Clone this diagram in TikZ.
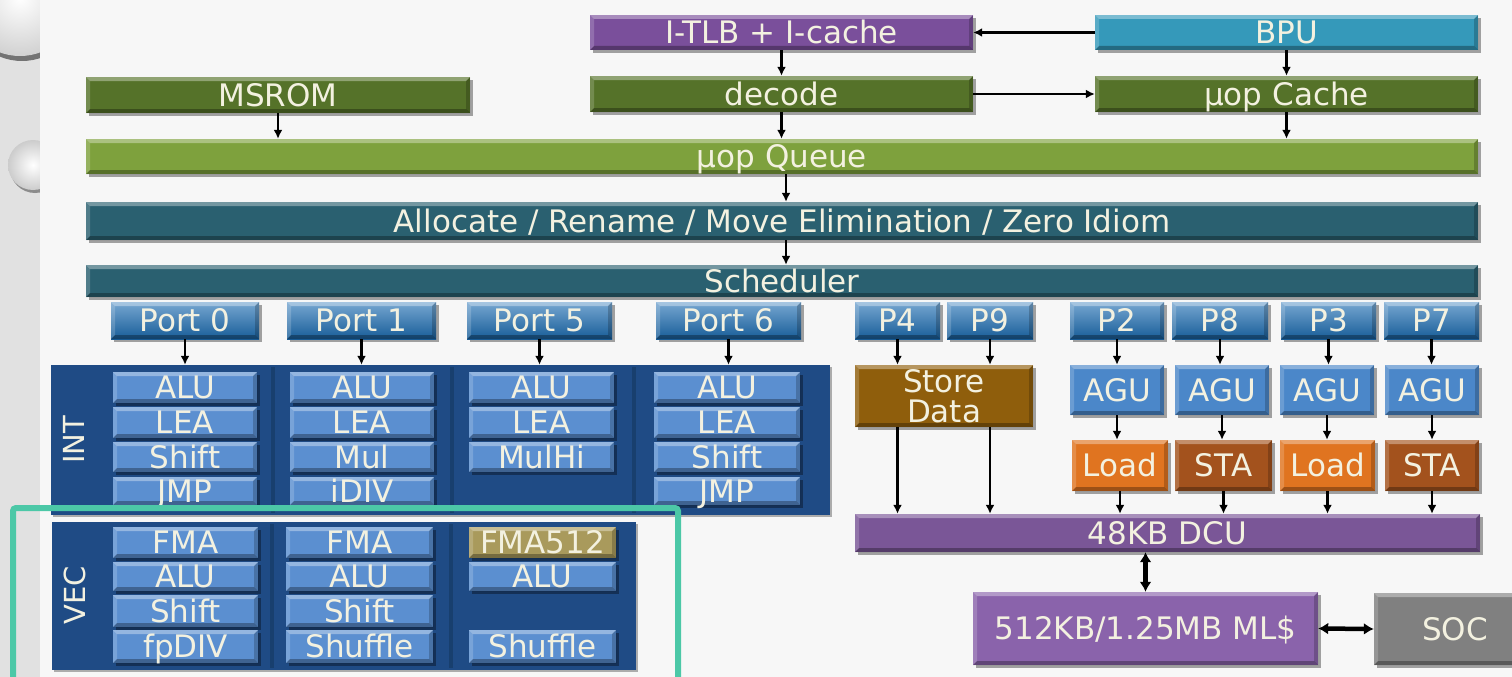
\documentclass[tikz,border=0pt]{standalone}
\usepackage{fontspec}
\setmainfont{DejaVu Sans}
\usetikzlibrary{arrows.meta,shadows,calc}

\definecolor{bgL}{HTML}{E1E1E1}
\definecolor{bgM}{HTML}{F7F7F7}
\definecolor{txtC}{HTML}{F3F1E0}
\definecolor{itlbC}{HTML}{7A4F9B}
\definecolor{bpuC}{HTML}{3599BA}
\definecolor{oliveC}{HTML}{557229}
\definecolor{queueC}{HTML}{7EA13D}
\definecolor{tealC}{HTML}{2A6070}
\definecolor{portC}{HTML}{1C6DB3}
\definecolor{navyC}{HTML}{1F4B85}
\definecolor{divC}{HTML}{183F6E}
\definecolor{unitC}{HTML}{5B8FD0}
\definecolor{fmaC}{HTML}{A99A5C}
\definecolor{storeC}{HTML}{8F5E0C}
\definecolor{aguC}{HTML}{4B87C9}
\definecolor{loadC}{HTML}{E07420}
\definecolor{staC}{HTML}{A3521D}
\definecolor{dcuC}{HTML}{7A5697}
\definecolor{mlC}{HTML}{8A63AB}
\definecolor{socC}{HTML}{808080}
\definecolor{hiC}{HTML}{4CC8A7}

\tikzset{
  % a box given by its corners: {x1}{y1}{x2}{y2}
  span/.style n args={4}{at={({(#1+#3)/2},{(#2+#4)/2})},
    minimum width={#3-#1}, minimum height={#4-#2}},
  lbl/.style={text=txtC, font=\fontsize{31}{30}\selectfont},
  bevel/.style={path picture={
    \coordinate (bvNW) at (path picture bounding box.north west);
    \coordinate (bvNE) at (path picture bounding box.north east);
    \coordinate (bvSW) at (path picture bounding box.south west);
    \coordinate (bvSE) at (path picture bounding box.south east);
    \fill[white,opacity=0.35] (bvNW) -- (bvNE) -- ($(bvNE)+(-4,4)$) -- ($(bvNW)+(4,4)$) -- cycle;
    \fill[white,opacity=0.18] (bvNW) -- ($(bvNW)+(4,4)$) -- ($(bvSW)+(4,-4)$) -- (bvSW) -- cycle;
    \fill[black,opacity=0.30] (bvSW) -- (bvSE) -- ($(bvSE)+(-4,-4)$) -- ($(bvSW)+(4,-4)$) -- cycle;
    \fill[black,opacity=0.20] (bvNE) -- (bvSE) -- ($(bvSE)+(-4,-4)$) -- ($(bvNE)+(-4,4)$) -- cycle;
  }},
  basebox/.style={fill=#1, lbl, inner sep=0pt, anchor=center, bevel,
    drop shadow={shadow xshift=2.5pt, shadow yshift=-3pt, opacity=0.35, fill=black}},
  box/.style={basebox=#1, text height=22pt, text depth=0pt},
  port/.style={box=portC, top color=portC!60!white, bottom color=portC!85!black},
  unit/.style={box=#1},
  unit/.default=unitC,
  blkbg/.style={fill=navyC, inner sep=0pt, anchor=center,
    drop shadow={shadow xshift=2pt, shadow yshift=-2pt, opacity=0.3, fill=black}},
  divider/.style={divC, line width=4pt},
  side/.style={text=txtC, font=\fontsize{29}{29}\selectfont, rotate=90},
  arr/.style={-{Latex[length=9pt,width=9pt]}, line width=2.7pt, black},
  darr/.style={{Latex[length=10pt,width=12pt]}-{Latex[length=10pt,width=12pt]}, line width=4.5pt, black},
  hl/.style={hiC, line width=6pt, rounded corners=3pt}
}

\begin{document}
\begin{tikzpicture}[x=1pt,y=-1pt]
\useasboundingbox (0,0) rectangle (1512,677);
\clip (0,0) rectangle (1512,677);

% slide background with the two round ornaments on the left band
\fill[bgL] (0,0) rectangle (40,677);
\fill[black!55] (22,3) circle[radius=58];
\shade[inner color=white, outer color=black!18] (20,-2) circle[radius=58];
\fill[black!45] (35,168) circle[radius=25];
\shade[inner color=white, outer color=black!20] (33,165) circle[radius=25];
\fill[bgM] (40,0) rectangle (1512,677);

% front end
\node[box=itlbC,  span={590}{15}{973}{50}]    (itlb)   {I-TLB + I-cache};
\node[box=bpuC,   span={1095}{15}{1478}{50}]  (bpu)    {BPU};
\node[box=oliveC, span={86}{77}{470}{113}]    (msrom)  {MSROM};
\node[box=oliveC, span={590}{76}{973}{112}]   (decode) {decode};
\node[box=oliveC, span={1095}{76}{1478}{112}] (ucache) {µop Cache};
\node[box=queueC, span={86}{139}{1478}{174}]  (queue)  {µop Queue};
\node[box=tealC,  span={86}{202}{1478}{240}]  (alloc)  {Allocate / Rename / Move Elimination / Zero Idiom};
\node[box=tealC,  span={86}{265}{1478}{297}]  (sched)  {Scheduler};

% ports
\node[port, span={111}{302}{259}{339}]   (p0) {Port 0};
\node[port, span={287}{302}{436}{339}]   (p1) {Port 1};
\node[port, span={467}{302}{612}{339}]   (p5) {Port 5};
\node[port, span={656}{302}{801}{339}]   (p6) {Port 6};
\node[port, span={855}{302}{940}{339}]   (p4) {P4};
\node[port, span={947}{302}{1033}{339}]  (p9) {P9};
\node[port, span={1070}{302}{1164}{339}] (p2) {P2};
\node[port, span={1172}{302}{1268}{339}] (p8) {P8};
\node[port, span={1281}{302}{1376}{339}] (p3) {P3};
\node[port, span={1384}{302}{1479}{339}] (p7) {P7};

% integer execution cluster
\node[blkbg, span={51}{365}{830}{515}] (intblk) {};
\draw[divider] (273,367) -- (273,513);
\draw[divider] (452,367) -- (452,513);
\draw[divider] (634,367) -- (634,513);
\node[side] (intlab) at (74,440) {INT};
\node[unit, span={113}{372}{257}{403}] (i11) {ALU};
\node[unit, span={113}{407}{257}{438}] (i12) {LEA};
\node[unit, span={113}{442}{257}{472}] (i13) {Shift};
\node[unit, span={113}{477}{257}{505}] (i14) {JMP};
\node[unit, span={290}{372}{434}{403}] (i21) {ALU};
\node[unit, span={290}{407}{434}{438}] (i22) {LEA};
\node[unit, span={290}{442}{434}{472}] (i23) {Mul};
\node[unit, span={290}{477}{434}{505}] (i24) {iDIV};
\node[unit, span={469}{372}{614}{403}] (i31) {ALU};
\node[unit, span={469}{407}{614}{438}] (i32) {LEA};
\node[unit, span={469}{442}{614}{472}] (i33) {MulHi};
\node[unit, span={654}{372}{800}{403}] (i41) {ALU};
\node[unit, span={654}{407}{800}{438}] (i42) {LEA};
\node[unit, span={654}{442}{800}{472}] (i43) {Shift};
\node[unit, span={654}{477}{800}{505}] (i44) {JMP};

% vector execution cluster
\node[blkbg, span={52}{522}{636}{670}] (vecblk) {};
\draw[divider] (272,524) -- (272,668);
\draw[divider] (451,524) -- (451,668);
\node[side] (veclab) at (75,595) {VEC};
\node[unit, span={113}{527}{258}{558}] (v11) {FMA};
\node[unit, span={113}{562}{258}{591}] (v12) {ALU};
\node[unit, span={113}{595}{258}{627}] (v13) {Shift};
\node[unit, span={113}{630}{258}{663}] (v14) {fpDIV};
\node[unit, span={286}{527}{433}{558}] (v21) {FMA};
\node[unit, span={286}{562}{433}{591}] (v22) {ALU};
\node[unit, span={286}{595}{433}{627}] (v23) {Shift};
\node[unit, span={286}{630}{433}{663}] (v24) {Shuffle};
\node[unit=fmaC, span={469}{527}{616}{558}] (v31) {FMA512};
\node[unit, span={469}{562}{616}{591}] (v32) {ALU};
\node[unit, span={469}{630}{616}{663}] (v34) {Shuffle};

% memory pipeline
\node[basebox=storeC, span={855}{365}{1033}{427}, align=center,
      font=\fontsize{31}{30}\selectfont] (store) {Store\\Data};
\node[box=aguC, span={1070}{365}{1164}{415}] (agu1) {AGU};
\node[box=aguC, span={1175}{365}{1269}{415}] (agu2) {AGU};
\node[box=aguC, span={1280}{365}{1374}{415}] (agu3) {AGU};
\node[box=aguC, span={1385}{365}{1479}{415}] (agu4) {AGU};
\node[box=loadC, span={1072}{440}{1168}{491}] (ld1) {Load};
\node[box=staC,  span={1175}{440}{1272}{491}] (st1) {STA};
\node[box=loadC, span={1280}{440}{1375}{491}] (ld2) {Load};
\node[box=staC,  span={1385}{440}{1479}{491}] (st2) {STA};
\node[box=dcuC, span={855}{514}{1480}{552}] (dcu) {48KB DCU};
\node[box=mlC,  span={973}{592}{1318}{665}] (ml)  {512KB/1.25MB ML\$};
\node[box=socC, span={1374}{593}{1536}{665}] (soc) {SOC};

% connectors
\coordinate (spine) at (786,0);
\draw[arr] (bpu.west) -- (itlb.east);
\draw[arr] (itlb.south) -- (decode.north);
\draw[arr] (decode.east) -- (ucache.west);
\draw[arr] (bpu.south) -- (ucache.north);
\draw[arr] (msrom.south) -- (msrom.south |- queue.north);
\draw[arr] (decode.south) -- (decode.south |- queue.north);
\draw[arr] (ucache.south) -- (ucache.south |- queue.north);
\draw[arr] (queue.south -| spine) -- (alloc.north -| spine);
\draw[arr] (alloc.south -| spine) -- (sched.north -| spine);
\foreach \p in {p0,p1,p5,p6}
  \draw[arr] (\p.south) -- (\p.south |- intblk.north);
\draw[arr] (p4.south) -- (p4.south |- store.north);
\draw[arr] (p9.south) -- (p9.south |- store.north);
\draw[arr] (store.south -| p4) -- (dcu.north -| p4);
\draw[arr] (store.south -| p9) -- (dcu.north -| p9);
\draw[arr] (p2.south) -- (p2.south |- agu1.north);
\draw[arr] (p8.south) -- (p8.south |- agu2.north);
\draw[arr] (p3.south) -- (p3.south |- agu3.north);
\draw[arr] (p7.south) -- (p7.south |- agu4.north);
\draw[arr] (agu1.south) -- (agu1.south |- ld1.north);
\draw[arr] (agu2.south) -- (agu2.south |- st1.north);
\draw[arr] (agu3.south) -- (agu3.south |- ld2.north);
\draw[arr] (agu4.south) -- (agu4.south |- st2.north);
\foreach \u in {ld1,st1,ld2,st2}
  \draw[arr] (\u.south) -- (\u.south |- dcu.north);
\draw[darr] (ml.north |- dcu.south) -- (ml.north);
\draw[darr] (ml.east) -- (soc.west);

% highlight frame around the vector cluster
\draw[hl] (13,508) rectangle (678,700);
\end{tikzpicture}
\end{document}
